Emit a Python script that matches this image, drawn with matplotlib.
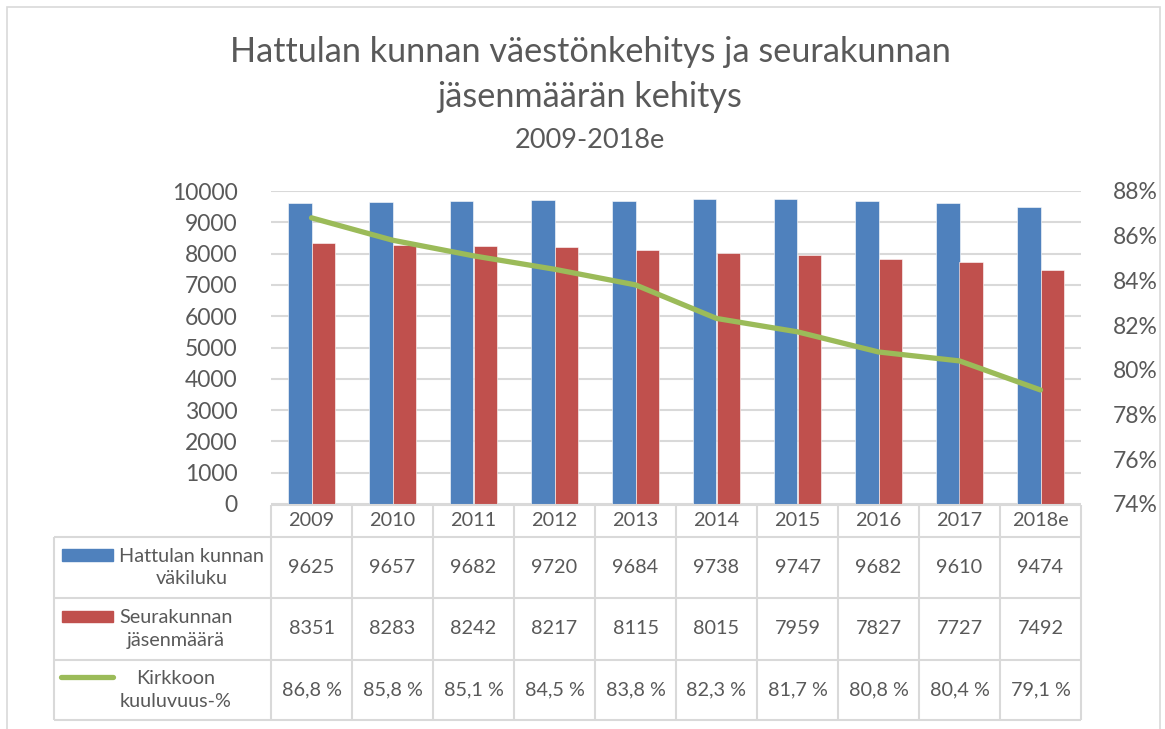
import matplotlib
matplotlib.use("Agg")
import matplotlib.pyplot as plt
from matplotlib.lines import Line2D
from matplotlib.patches import Rectangle
from matplotlib.transforms import blended_transform_factory
import numpy as np

plt.rcParams["font.family"] = ["Lato", "DejaVu Sans"]

# ---------------------------------------------------------------- data --------
years = ["2009", "2010", "2011", "2012", "2013", "2014", "2015", "2016", "2017", "2018e"]
vakiluku = [9625, 9657, 9682, 9720, 9684, 9738, 9747, 9682, 9610, 9474]
jasenmaara = [8351, 8283, 8242, 8217, 8115, 8015, 7959, 7827, 7727, 7492]
kuuluvuus = [86.8, 85.8, 85.1, 84.5, 83.8, 82.3, 81.7, 80.8, 80.4, 79.1]

labels = ["Hattulan kunnan\nväkiluku", "Seurakunnan\njäsenmäärä", "Kirkkoon\nkuuluvuus-%"]

BLUE = "#4F81BD"
RED = "#C0504D"
GREEN = "#9BBB59"
TXT = "#595959"
GRID = "#D9D9D9"

W, H = 1165, 729


def fx(px):
    return px / W


def fy(py):
    return 1 - py / H


# ---------------------------------------------------------------- figure ------
fig = plt.figure(figsize=(W / 100, H / 100), dpi=100)
ax = fig.add_axes([fx(271), fy(504), fx(1081) - fx(271), fy(191) - fy(504)])
ax2 = ax.twinx()

x = np.arange(len(years))
bw = 0.284
ax.bar(x - bw / 2, vakiluku, bw, color=BLUE, edgecolor="white", linewidth=0.4, zorder=3)
ax.bar(x + bw / 2, jasenmaara, bw, color=RED, edgecolor="white", linewidth=0.4, zorder=3)
ax.set_xlim(-0.5, len(years) - 0.5)
ax.set_ylim(0, 10000)
ax.set_yticks(np.arange(0, 10001, 1000))
ax.set_xticks([])
ax.grid(axis="y", color=GRID, linewidth=1.5, zorder=0)
ax.set_axisbelow(True)

ax2.plot(x, kuuluvuus, color=GREEN, lw=3.8, solid_capstyle="round", zorder=5)
ax2.set_ylim(74, 88)
ax2.set_yticks(np.arange(74, 89, 2))
ax2.set_yticklabels([f"{v}%" for v in range(74, 89, 2)])

for a in (ax, ax2):
    for sp in a.spines.values():
        sp.set_visible(False)
    a.tick_params(length=0, labelsize=16.5, labelcolor=TXT)
ax.tick_params(axis="y", pad=24)
ax2.tick_params(axis="y", pad=23)

# ---------------------------------------------------------------- title -------
fig.text(fx(590), fy(52), "Hattulan kunnan väestönkehitys ja seurakunnan",
         ha="center", va="center", fontsize=24.7, color=TXT)
fig.text(fx(590), fy(97), "jäsenmäärän kehitys",
         ha="center", va="center", fontsize=24.7, color=TXT)
fig.text(fx(590), fy(141), "2009-2018e",
         ha="center", va="center", fontsize=19.5, color=TXT)

# ---------------------------------------------------------------- table -------
tr = blended_transform_factory(ax.transData, fig.transFigure)
rows_y = [505, 537, 598, 660, 720]
x0, x1 = -0.5, len(years) - 0.5
lkw = dict(color=GRID, lw=1.5, solid_capstyle="butt", zorder=1)
# header row
fig.add_artist(Line2D([x0, x1], [fy(505), fy(505)], transform=tr, **lkw))
for yy in rows_y[1:]:
    fig.add_artist(Line2D([fx(54), fx(1081)], [fy(yy), fy(yy)], transform=fig.transFigure, **lkw))
for b in np.arange(x0, x1 + 0.01, 1.0):
    fig.add_artist(Line2D([b, b], [fy(505), fy(720)], transform=tr, **lkw))
fig.add_artist(Line2D([fx(54), fx(54)], [fy(537), fy(720)], transform=fig.transFigure, **lkw))

for i, yr in enumerate(years):
    fig.text(i, fy(521), yr, transform=tr, ha="center", va="center", fontsize=14.3, color=TXT)
rows = [vakiluku, jasenmaara, [f"{v:.1f} %".replace(".", ",") for v in kuuluvuus]]
for r, vals in enumerate(rows):
    yc = 0.5 * (rows_y[r + 1] + rows_y[r + 2])
    for i, v in enumerate(vals):
        fig.text(i, fy(yc), str(v), transform=tr, ha="center", va="center",
                 fontsize=14.3, color=TXT)

# legend keys in label column
fig.add_artist(Rectangle((fx(62), fy(561)), fx(51), fy(549) - fy(561), color=BLUE,
                         transform=fig.transFigure))
fig.add_artist(Rectangle((fx(62), fy(622)), fx(51), fy(611) - fy(622), color=RED,
                         transform=fig.transFigure))
fig.add_artist(Line2D([fx(61), fx(113)], [fy(677), fy(677)], color=GREEN, lw=3.8,
                      solid_capstyle="round", transform=fig.transFigure))
lab_x = [119, 119, 120]
for r, lab in enumerate(labels):
    yc = 0.5 * (rows_y[r + 1] + rows_y[r + 2])
    fig.text(fx(lab_x[r]), fy(yc), lab, ha="left", va="center", multialignment="center",
             fontsize=14.3, color=TXT, linespacing=1.42)

# chart frame
fig.add_artist(Rectangle((fx(7), fy(735)), fx(1160) - fx(7), fy(7) - fy(735),
                         facecolor="none", edgecolor=GRID, lw=1.2, transform=fig.transFigure))

fig.savefig("out.png", dpi=100)
